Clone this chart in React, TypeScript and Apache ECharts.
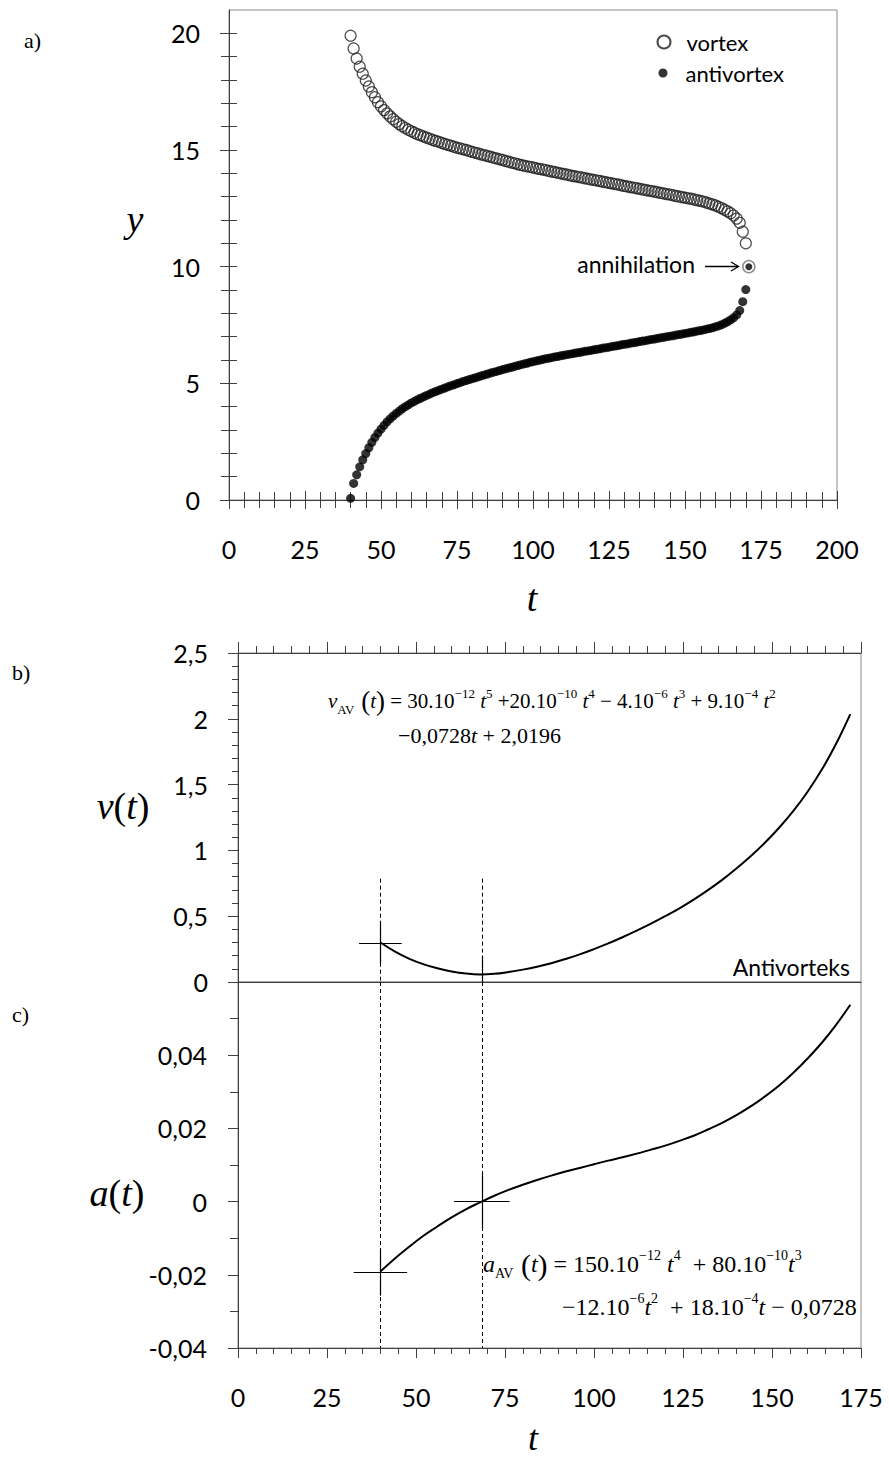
import React, { useEffect, useRef } from 'react';
import * as echarts from 'echarts';

// ---------- Panel a: vortex / antivortex trajectories ----------
const T_POINTS = [
  40, 41, 42, 43, 44, 45, 46, 47, 48, 49,
  50, 51, 52, 53, 54, 55, 56, 57, 58, 59,
  60, 61, 62, 63, 64, 65, 66, 67, 68, 69,
  70, 71, 72, 73, 74, 75, 76, 77, 78, 79,
  80, 81, 82, 83, 84, 85, 86, 87, 88, 89,
  90, 91, 92, 93, 94, 95, 96, 97, 98, 99,
  100, 101, 102, 103, 104, 105, 106, 107, 108, 109,
  110, 111, 112, 113, 114, 115, 116, 117, 118, 119,
  120, 121, 122, 123, 124, 125, 126, 127, 128, 129,
  130, 131, 132, 133, 134, 135, 136, 137, 138, 139,
  140, 141, 142, 143, 144, 145, 146, 147, 148, 149,
  150, 151, 152, 153, 154, 155, 156, 157, 158, 159,
  160, 161, 162, 163, 164, 165, 166, 167, 168, 169,
  170,
];

const VORTEX_Y = [
  19.9, 19.35, 18.92, 18.57, 18.27, 17.98, 17.72, 17.48, 17.26, 17.05,
  16.87, 16.71, 16.57, 16.44, 16.32, 16.21, 16.11, 16.02, 15.94, 15.87,
  15.8, 15.74, 15.68, 15.63, 15.58, 15.53, 15.48, 15.43, 15.39, 15.35,
  15.3, 15.26, 15.22, 15.18, 15.14, 15.1, 15.07, 15.03, 15.0, 14.96,
  14.92, 14.88, 14.85, 14.81, 14.78, 14.74, 14.71, 14.67, 14.64, 14.6,
  14.57, 14.53, 14.5, 14.46, 14.43, 14.39, 14.36, 14.33, 14.3, 14.28,
  14.25, 14.22, 14.19, 14.17, 14.14, 14.11, 14.08, 14.06, 14.03, 14.0,
  13.97, 13.95, 13.92, 13.89, 13.87, 13.84, 13.82, 13.79, 13.77, 13.74,
  13.72, 13.69, 13.67, 13.64, 13.62, 13.59, 13.57, 13.54, 13.52, 13.49,
  13.46, 13.44, 13.41, 13.39, 13.36, 13.34, 13.31, 13.29, 13.26, 13.24,
  13.21, 13.19, 13.16, 13.14, 13.11, 13.09, 13.06, 13.03, 13.01, 12.98,
  12.96, 12.93, 12.91, 12.88, 12.85, 12.82, 12.79, 12.75, 12.71, 12.67,
  12.62, 12.57, 12.51, 12.44, 12.37, 12.29, 12.19, 12.06, 11.88, 11.5,
  11.0,
];

const ANTIVORTEX_Y = [
  0.07, 0.71, 1.08, 1.42, 1.72, 1.99, 2.24, 2.47, 2.68, 2.87,
  3.04, 3.2, 3.35, 3.48, 3.6, 3.71, 3.81, 3.91, 4.0, 4.08,
  4.16, 4.23, 4.3, 4.36, 4.42, 4.48, 4.54, 4.6, 4.65, 4.7,
  4.75, 4.8, 4.85, 4.9, 4.94, 4.99, 5.03, 5.08, 5.12, 5.16,
  5.2, 5.24, 5.28, 5.32, 5.36, 5.4, 5.44, 5.48, 5.51, 5.55,
  5.59, 5.62, 5.66, 5.69, 5.73, 5.76, 5.8, 5.83, 5.86, 5.9,
  5.93, 5.96, 5.99, 6.02, 6.05, 6.07, 6.1, 6.13, 6.15, 6.18,
  6.2, 6.23, 6.25, 6.27, 6.3, 6.32, 6.34, 6.37, 6.39, 6.41,
  6.44, 6.46, 6.48, 6.51, 6.53, 6.55, 6.58, 6.6, 6.62, 6.65,
  6.67, 6.69, 6.72, 6.74, 6.76, 6.79, 6.81, 6.83, 6.86, 6.88,
  6.9, 6.93, 6.95, 6.97, 7.0, 7.02, 7.04, 7.07, 7.09, 7.11,
  7.14, 7.16, 7.19, 7.21, 7.24, 7.26, 7.29, 7.32, 7.35, 7.38,
  7.42, 7.46, 7.51, 7.57, 7.64, 7.72, 7.81, 7.93, 8.12, 8.5,
  9.02,
];

const ANNIHILATION_POINT = [171, 10];
const Y_LABELS_A = [0, 5, 10, 15, 20];

// ---------- Panels b and c: v(t) and a(t) of the antivortex ----------
const T_CURVE = [40, 44, 48, 52, 56, 60, 64, 68, 72, 76, 80, 84, 88, 92, 96, 100, 104, 108, 112, 116, 120, 124, 128, 132, 136, 140, 144, 148, 152, 156, 160, 164, 168, 172];
const V_CURVE = [0.3, 0.233, 0.178, 0.136, 0.104, 0.08, 0.064, 0.057, 0.062, 0.076, 0.094, 0.116, 0.143, 0.175, 0.21, 0.25, 0.293, 0.34, 0.39, 0.443, 0.5, 0.56, 0.626, 0.698, 0.776, 0.862, 0.955, 1.058, 1.172, 1.3, 1.446, 1.614, 1.81, 2.036];
const A_CURVE = [-0.0191, -0.0156, -0.0124, -0.0094, -0.0068, -0.0043, -0.0021, -0.0002, 0.0016, 0.0032, 0.0046, 0.0059, 0.0071, 0.0082, 0.0092, 0.0102, 0.0112, 0.0121, 0.0131, 0.0142, 0.0153, 0.0166, 0.018, 0.0197, 0.0215, 0.0236, 0.026, 0.0287, 0.0317, 0.0352, 0.0391, 0.0434, 0.0483, 0.0538];

// marked instants (start of motion, minimum of velocity)
const MARK_T = [40, 68.5];
const DASH_TOP_V = 0.785;
const CROSS_B = { t: 40, v: 0.296, dt: 6, dvUp: 0.165, dvDown: 0.156 };
const CROSS_C = [
  { t: 40, a: -0.0193, dt: 7.5, da: 0.0064 },
  { t: 68.5, a: 0, dt: 7.8, da: 0.0077 },
];

const AXIS_COLOR = '#3f3f3f';
const FRAME_COLOR = '#8a8a8a';
const SANS = 'Lato, "Open Sans", sans-serif';
const SERIF = '"Liberation Serif", "Times New Roman", serif';
const comma = (v: number) => String(v).replace('.', ',');

function rich(size: number) {
  const sup = Math.round(size * 0.6);
  return {
    n: { fontFamily: SERIF, fontSize: size, lineHeight: size + 8, color: '#000' },
    i: { fontFamily: SERIF, fontSize: size, fontStyle: 'italic', lineHeight: size + 8, color: '#000' },
    p: { fontFamily: SERIF, fontSize: size + 6, lineHeight: size + 8, color: '#000' },
    sup: { fontFamily: SERIF, fontSize: sup, lineHeight: sup, verticalAlign: 'top', color: '#000' },
    sub: { fontFamily: SERIF, fontSize: sup, lineHeight: size - 2, verticalAlign: 'bottom', color: '#000' },
  };
}

function richText(x: number, y: number, text: string, size: number, align = 'left') {
  return {
    type: 'text',
    x,
    y,
    silent: true,
    style: {
      text,
      rich: rich(size),
      fontFamily: SERIF,
      fontSize: size,
      fill: '#000',
      align,
      verticalAlign: 'middle',
    },
  };
}

function plainText(x: number, y: number, text: string, size: number, family: string, align = 'left', italic = false) {
  return {
    type: 'text',
    x,
    y,
    silent: true,
    style: {
      text,
      fontFamily: family,
      fontSize: size,
      fontStyle: italic ? 'italic' : 'normal',
      fill: '#000',
      align,
      verticalAlign: 'middle',
    },
  };
}

const tickLine = { color: AXIS_COLOR, width: 1 };

export default function App() {
  const ref = useRef<HTMLDivElement>(null);

  useEffect(() => {
    if (!ref.current) return;
    const chart = echarts.init(ref.current, undefined, { renderer: 'svg' });

    const dashed = { color: '#000', width: 1, type: [4, 3] };
    const solid = { color: '#000', width: 1.2, type: 'solid' };

    const markB: any[] = [];
    MARK_T.forEach((t) => {
      markB.push([{ coord: [t, DASH_TOP_V], lineStyle: dashed }, { coord: [t, 0] }]);
    });
    markB.push([{ coord: [CROSS_B.t - CROSS_B.dt, CROSS_B.v], lineStyle: solid }, { coord: [CROSS_B.t + CROSS_B.dt, CROSS_B.v] }]);
    markB.push([{ coord: [CROSS_B.t, CROSS_B.v + CROSS_B.dvUp], lineStyle: solid }, { coord: [CROSS_B.t, CROSS_B.v - CROSS_B.dvDown] }]);
    markB.push([{ coord: [MARK_T[1], 0.2], lineStyle: solid }, { coord: [MARK_T[1], 0] }]);

    const markC: any[] = [];
    MARK_T.forEach((t) => {
      markC.push([{ coord: [t, 0.06], lineStyle: dashed }, { coord: [t, -0.04] }]);
    });
    CROSS_C.forEach((c) => {
      markC.push([{ coord: [c.t - c.dt, c.a], lineStyle: solid }, { coord: [c.t + c.dt, c.a] }]);
      markC.push([{ coord: [c.t, c.a + c.da], lineStyle: solid }, { coord: [c.t, c.a - c.da] }]);
    });

    const option: any = {
      animation: false,
      backgroundColor: '#ffffff',
      legend: [
        {
          data: ['vortex'],
          orient: 'vertical',
          left: 656.5,
          top: 31,
          padding: 0,
          itemWidth: 13,
          itemHeight: 13,
          selectedMode: false,
          textStyle: { fontFamily: SANS, fontSize: 22, lineHeight: 22, color: '#000', padding: [0, 0, 0, 11] },
        },
        {
          data: ['antivortex'],
          orient: 'vertical',
          left: 658.5,
          top: 62,
          padding: 0,
          itemWidth: 9,
          itemHeight: 9,
          selectedMode: false,
          textStyle: { fontFamily: SANS, fontSize: 22, lineHeight: 22, color: '#000', padding: [0, 0, 0, 13] },
        },
      ],
      grid: [
        { left: 229, top: 10, width: 608, height: 490, show: true, borderColor: FRAME_COLOR, borderWidth: 1, backgroundColor: 'transparent' },
        { left: 238, top: 653, width: 623, height: 329, show: true, borderColor: FRAME_COLOR, borderWidth: 1, backgroundColor: 'transparent' },
        { left: 238, top: 982, width: 623, height: 366, show: true, borderColor: FRAME_COLOR, borderWidth: 1, backgroundColor: 'transparent' },
      ],
      xAxis: [
        {
          gridIndex: 0, type: 'value', min: 0, max: 200, interval: 25, position: 'bottom',
          axisLine: { show: true, onZero: false, lineStyle: tickLine },
          axisTick: { show: true, length: 9, lineStyle: tickLine },
          minorTick: { show: true, splitNumber: 5, length: 8, lineStyle: tickLine },
          axisLabel: { margin: 36, fontFamily: SANS, fontSize: 25, color: '#000' },
          splitLine: { show: false },
        },
        {
          gridIndex: 0, type: 'value', min: 0, max: 200, interval: 25, position: 'bottom',
          axisLine: { show: false, onZero: false },
          axisTick: { show: true, inside: true, length: 9, lineStyle: tickLine },
          minorTick: { show: true, splitNumber: 5, length: 8, lineStyle: tickLine },
          axisLabel: { show: false },
          splitLine: { show: false },
        },
        {
          gridIndex: 1, type: 'value', min: 0, max: 175, interval: 25, position: 'top',
          axisLine: { show: true, onZero: false, lineStyle: tickLine },
          axisTick: { show: true, length: 11, lineStyle: tickLine },
          minorTick: { show: true, splitNumber: 5, length: 7, lineStyle: tickLine },
          axisLabel: { show: false },
          splitLine: { show: false },
        },
        {
          gridIndex: 1, type: 'value', min: 0, max: 175, interval: 25, position: 'bottom',
          axisLine: { show: true, onZero: false, lineStyle: tickLine },
          axisTick: { show: false },
          axisLabel: { show: false },
          splitLine: { show: false },
        },
        {
          gridIndex: 2, type: 'value', min: 0, max: 175, interval: 25, position: 'bottom',
          axisLine: { show: true, onZero: false, lineStyle: tickLine },
          axisTick: { show: true, length: 10, lineStyle: tickLine },
          minorTick: { show: true, splitNumber: 5, length: 6, lineStyle: tickLine },
          axisLabel: { margin: 36, fontFamily: SANS, fontSize: 25, color: '#000' },
          splitLine: { show: false },
        },
      ],
      yAxis: [
        {
          gridIndex: 0, type: 'value', min: 0, max: 21, interval: 5, position: 'left',
          axisLine: { show: true, onZero: false, lineStyle: tickLine },
          axisTick: { show: true, length: 9, lineStyle: tickLine, customValues: Y_LABELS_A },
          minorTick: { show: true, splitNumber: 5, length: 8, lineStyle: tickLine },
          axisLabel: { margin: 29, fontFamily: SANS, fontSize: 25, color: '#000', customValues: Y_LABELS_A, formatter: (v: number) => (v > 20 ? '' : String(v)) },
          splitLine: { show: false },
        },
        {
          gridIndex: 0, type: 'value', min: 0, max: 21, interval: 5, position: 'left',
          axisLine: { show: false, onZero: false },
          axisTick: { show: true, inside: true, length: 8, lineStyle: tickLine, customValues: Y_LABELS_A },
          minorTick: { show: true, splitNumber: 5, length: 8, lineStyle: tickLine },
          axisLabel: { show: false },
          splitLine: { show: false },
        },
        {
          gridIndex: 1, type: 'value', min: 0, max: 2.5, interval: 0.5, position: 'left',
          axisLine: { show: true, onZero: false, lineStyle: tickLine },
          axisTick: { show: true, length: 10, lineStyle: tickLine },
          minorTick: { show: true, splitNumber: 5, length: 6, lineStyle: tickLine },
          axisLabel: { margin: 30, fontFamily: SANS, fontSize: 25, color: '#000', formatter: (v: number) => comma(v) },
          splitLine: { show: false },
        },
        {
          gridIndex: 2, type: 'value', min: -0.04, max: 0.06, interval: 0.02, position: 'left',
          axisLine: { show: true, onZero: false, lineStyle: tickLine },
          axisTick: { show: true, length: 10, lineStyle: tickLine },
          minorTick: { show: true, splitNumber: 2, length: 8, lineStyle: tickLine },
          axisLabel: { margin: 31, fontFamily: SANS, fontSize: 25, color: '#000', formatter: (v: number) => (v > 0.05 ? '' : comma(v)) },
          splitLine: { show: false },
        },
      ],
      series: [
        {
          name: 'vortex', type: 'scatter', xAxisIndex: 0, yAxisIndex: 0, symbol: 'circle', symbolSize: 11,
          data: T_POINTS.map((t, i) => [t, VORTEX_Y[i]]),
          itemStyle: { color: 'rgba(255,255,255,0)', borderColor: '#1e1e1e', borderWidth: 1.2 },
          silent: true, z: 3,
        },
        {
          name: 'antivortex', type: 'scatter', xAxisIndex: 0, yAxisIndex: 0, symbol: 'circle', symbolSize: 9,
          data: T_POINTS.map((t, i) => [t, ANTIVORTEX_Y[i]]),
          itemStyle: { color: '#000' },
          silent: true, z: 3,
        },
        {
          name: 'annihilation-ring', type: 'scatter', xAxisIndex: 0, yAxisIndex: 0, symbol: 'circle', symbolSize: 12,
          data: [ANNIHILATION_POINT],
          itemStyle: { color: '#fff', borderColor: '#707070', borderWidth: 1.5 },
          silent: true, z: 4,
        },
        {
          name: 'annihilation-core', type: 'scatter', xAxisIndex: 0, yAxisIndex: 0, symbol: 'circle', symbolSize: 7,
          data: [ANNIHILATION_POINT],
          itemStyle: { color: '#000' },
          silent: true, z: 5,
        },
        {
          name: 'v(t)', type: 'line', xAxisIndex: 2, yAxisIndex: 2,
          data: T_CURVE.map((t, i) => [t, V_CURVE[i]]),
          smooth: 0.4, showSymbol: false, symbol: 'none',
          lineStyle: { color: '#000', width: 2 },
          silent: true, z: 3,
          markLine: { silent: true, symbol: ['none', 'none'], label: { show: false }, lineStyle: solid, emphasis: { disabled: true }, data: markB },
        },
        {
          name: 'a(t)', type: 'line', xAxisIndex: 4, yAxisIndex: 3,
          data: T_CURVE.map((t, i) => [t, A_CURVE[i]]),
          smooth: 0.4, showSymbol: false, symbol: 'none',
          lineStyle: { color: '#000', width: 2 },
          silent: true, z: 3,
          markLine: { silent: true, symbol: ['none', 'none'], label: { show: false }, lineStyle: solid, emphasis: { disabled: true }, data: markC },
        },
      ],
      graphic: [
        plainText(24, 40, 'a)', 22, SERIF),
        plainText(12, 672, 'b)', 22, SERIF),
        plainText(12, 1014, 'c)', 22, SERIF),
        plainText(135, 219, 'y', 38, SERIF, 'center', true),
        plainText(532, 598, 't', 38, SERIF, 'center', true),
        plainText(533, 1438, 't', 36, SERIF, 'center', true),
        richText(123, 806, '{i|v}{n|(}{i|t}{n|)}', 38, 'center'),
        richText(117, 1193, '{i|a}{n|(}{i|t}{n|)}', 38, 'center'),
        plainText(695, 264, 'annihilation', 23, SANS, 'right'),
        { type: 'line', silent: true, shape: { x1: 705, y1: 266.5, x2: 738, y2: 266.5 }, style: { stroke: '#000', lineWidth: 1.3 } },
        { type: 'polyline', silent: true, shape: { points: [[731, 262], [738.5, 266.5], [731, 271]] }, style: { stroke: '#000', fill: 'none', lineWidth: 1.3 } },
        plainText(850, 967, 'Antivorteks', 23, SANS, 'right'),
        richText(328, 701, '{i|v}{sub|AV}{p| (}{i|t}{p|)}{n| = 30.10}{sup|−12}{i| t}{sup|5}{n| +20.10}{sup|−10}{i| t}{sup|4}{n| − 4.10}{sup|−6}{i| t}{sup|3}{n| + 9.10}{sup|−4}{i| t}{sup|2}', 21),
        richText(398, 735, '{n|−0,0728}{i|t}{n| + 2,0196}', 22),
        richText(483, 1264, '{i|a}{sub|AV}{p| (}{i|t}{p|)}{n| = 150.10}{sup|−12}{i| t}{sup|4}{n|  + 80.10}{sup|−10}{i|t}{sup|3}', 24),
        richText(562, 1307, '{n|−12.10}{sup|−6}{i|t}{sup|2}{n|  + 18.10}{sup|−4}{i|t}{n| − 0,0728}', 24),
      ],
    };

    chart.setOption(option);
    return () => chart.dispose();
  }, []);

  return (
    <div
      ref={ref}
      style={{ position: 'absolute', left: 0, top: 0, width: 889, height: 1461, background: '#fff' }}
    />
  );
}
